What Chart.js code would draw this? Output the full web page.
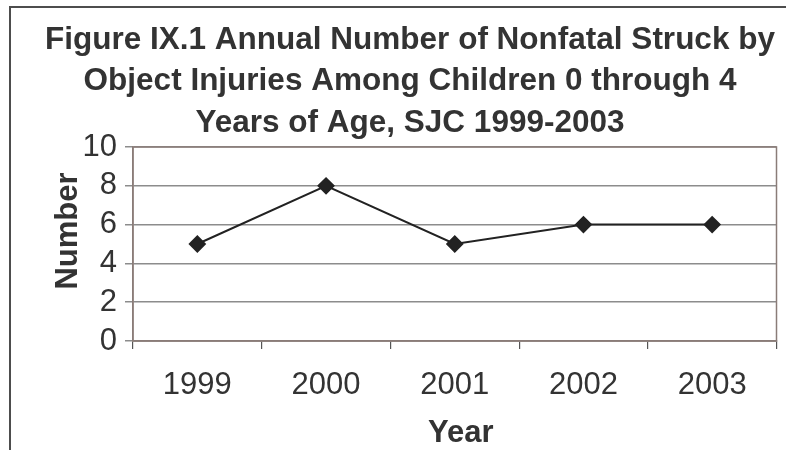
<!DOCTYPE html>
<html>
<head>
<meta charset="utf-8">
<script src="https://cdn.jsdelivr.net/npm/chart.js@4.4.1/dist/chart.umd.min.js"></script>
<style>
  html, body { margin: 0; padding: 0; background: #fff; overflow: hidden; }
  canvas { display: block; }
</style>
</head>
<body>
<canvas id="c" width="786" height="450"></canvas>
<script>
// Annual nonfatal struck-by-object injuries, children 0-4, SJC
const years = ['1999', '2000', '2001', '2002', '2003'];
const injuries = [5, 8, 5, 6, 6];
const yTicks = [0, 2, 4, 6, 8, 10];

const titleLines = [
  'Figure IX.1 Annual Number of Nonfatal Struck by',
  'Object Injuries Among Children 0 through 4',
  'Years of Age, SJC 1999-2003'
];
const xTitle = 'Year';
const yTitle = 'Number';

const FONT = '"Liberation Sans", Arial, Helvetica, sans-serif';
const TEXT = '#333333';
const BORDER = '#8a7c78';
const GRID = '#8c8c8c';
const W = 786, H = 450;

// Outer frame, plot-area outline and the axis titles
const decor = {
  id: 'decor',
  beforeDraw(chart) {
    const ctx = chart.ctx;
    ctx.save();
    ctx.fillStyle = '#ffffff';
    ctx.fillRect(0, 0, W, H);
    ctx.restore();
  },
  afterDatasetsDraw(chart) {
    const { ctx, chartArea: a } = chart;
    ctx.save();
    ctx.strokeStyle = BORDER;
    ctx.lineWidth = 1.5;
    ctx.strokeRect(a.left, a.top, a.right - a.left, a.bottom - a.top);
    ctx.restore();
  },
  afterDraw(chart) {
    const { ctx, chartArea: a } = chart;
    ctx.save();
    ctx.fillStyle = '#4d4d4d';
    ctx.fillRect(9, 6, W - 9, 2);
    ctx.fillRect(9, 6, 2, H - 6);
    ctx.fillStyle = TEXT;
    ctx.font = 'bold 31px ' + FONT;
    ctx.textAlign = 'center';
    ctx.textBaseline = 'alphabetic';
    ctx.fillText(xTitle, (a.left + a.right) / 2 + 6, 442);
    ctx.translate(77, (a.top + a.bottom) / 2 - 13);
    ctx.rotate(-Math.PI / 2);
    ctx.fillText(yTitle, 0, 0);
    ctx.restore();
  }
};

new Chart(document.getElementById('c'), {
  type: 'line',
  data: {
    labels: years,
    datasets: [{
      data: injuries,
      borderColor: '#222222',
      borderWidth: 2,
      backgroundColor: '#222222',
      pointStyle: 'rectRot',
      pointRadius: 7.5,
      pointHoverRadius: 7.5,
      tension: 0,
      fill: false
    }]
  },
  options: {
    responsive: false,
    animation: false,
    events: [],
    layout: { padding: { left: 42, right: 8, top: 0, bottom: 0 } },
    plugins: {
      legend: { display: false },
      tooltip: { enabled: false },
      title: {
        display: true,
        text: titleLines,
        color: TEXT,
        font: { family: FONT, size: 31.5, weight: 'bold', lineHeight: '41.5px' },
        padding: { top: 19.5, bottom: 3 }
      }
    },
    scales: {
      x: {
        type: 'category',
        offset: true,
        grid: {
          offset: true,
          drawOnChartArea: false,
          drawTicks: true,
          tickLength: 8,
          color: '#555555',
          lineWidth: 1.2
        },
        border: { display: true, color: BORDER, width: 1.5 },
        ticks: {
          color: TEXT,
          padding: 18,
          font: { family: FONT, size: 31 },
          maxRotation: 0,
          autoSkip: false
        },
        afterFit(scale) { scale.height = 109; }
      },
      y: {
        min: 0,
        max: 10,
        afterBuildTicks(scale) { scale.ticks = yTicks.map(v => ({ value: v })); },
        grid: {
          drawTicks: true,
          tickLength: 8,
          color: GRID,
          lineWidth: 1.5
        },
        border: { display: true, color: BORDER, width: 1.5 },
        ticks: {
          color: TEXT,
          padding: 8,
          autoSkip: false,
          font: { family: FONT, size: 31 }
        },
        afterFit(scale) { scale.width = 91; }
      }
    }
  },
  plugins: [decor]
});
</script>
</body>
</html>
